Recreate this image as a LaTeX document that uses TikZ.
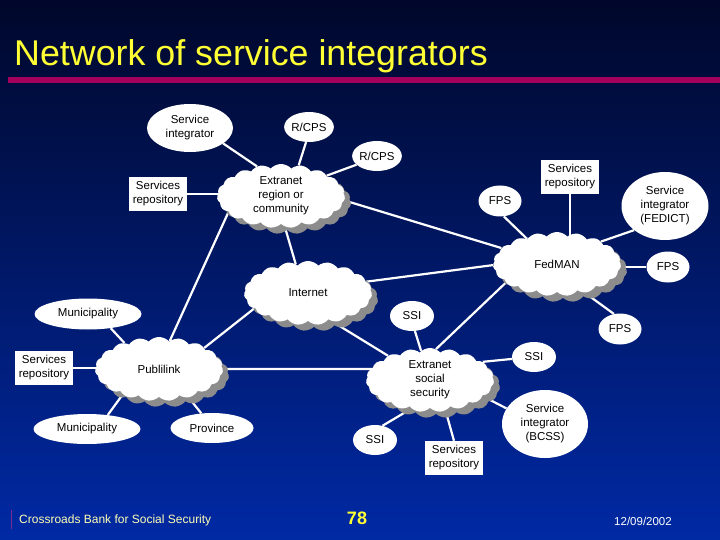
\documentclass[tikz,border=0pt]{standalone}
\usepackage{fontspec}
\setmainfont{Liberation Sans}
\usetikzlibrary{shapes.symbols,shapes.geometric,shadows,backgrounds}
\definecolor{slidetop}{HTML}{00072A}
\definecolor{slidebot}{HTML}{0029A4}
\definecolor{titleyel}{HTML}{FFFF33}
\definecolor{rulemag}{HTML}{A3005C}
\definecolor{footyel}{HTML}{FFFFB4}
\definecolor{barpurple}{HTML}{7A2C8F}
\definecolor{puffgrey}{HTML}{8C8C8C}
\pgfdeclarelayer{links}
\pgfsetlayers{background,links,main}

\begin{document}
\begin{tikzpicture}[x=1pt,y=-1pt,
  lbl/.style={font=\fontsize{11.5}{14}\selectfont,align=center,inner sep=0pt,fill=white},
  ell/.style={lbl,ellipse},
  repo/.style={lbl,rectangle,minimum width=58pt,minimum height=34pt},
  cld/.style={lbl,cloud,cloud puffs=19,cloud puff arc=95,cloud ignores aspect,
              minimum width=128pt,minimum height=64pt,
              drop shadow={shadow xshift=6pt,shadow yshift=-6pt,fill=puffgrey,opacity=1}},
  link/.style={draw=white,line width=2.2pt}]

\useasboundingbox (0,0) rectangle (720,540);
\begin{pgfonlayer}{background}
\shade[top color=slidetop,bottom color=slidebot] (0,0) rectangle (720,540);
\end{pgfonlayer}

\node[anchor=base west,text=titleyel,font=\fontsize{35.8}{40}\selectfont,inner sep=0pt] (title) at (14,66)
  {Network of service integrators};
\fill[rulemag] (8,77.5) rectangle (720,83.5);

% upper region
\node[ell,minimum width=86pt,minimum height=48pt] (si) at (190,128) {Service\\integrator};
\node[ell,minimum width=43pt,minimum height=30pt] (rc1) at (309,127) {R/CPS};
\node[ell,minimum width=43pt,minimum height=30pt] (rc2) at (377,156) {R/CPS};
\node[repo] (srA) at (158,194) {Services\\repository};
\node[cld] (ext) at (281,196) {Extranet\\region or\\community};

% FedMAN
\node[repo] (srB) at (570,177) {Services\\repository};
\node[ell,minimum width=43pt,minimum height=31pt] (fpsA) at (500,201) {FPS};
\node[ell,minimum width=87pt,minimum height=68pt] (fedict) at (665,206) {Service\\integrator\\(FEDICT)};
\node[cld] (fed) at (557,264) {FedMAN};
\node[ell,minimum width=43pt,minimum height=31pt] (fpsB) at (668,267) {FPS};
\node[ell,minimum width=43pt,minimum height=31pt] (fpsC) at (620,329) {FPS};

\node[cld] (int) at (308,293) {Internet};

% Publilink
\node[ell,minimum width=107pt,minimum height=31pt] (muniA) at (88,314) {Municipality};
\node[repo] (srC) at (44,368) {Services\\repository};
\node[cld] (pub) at (159,369) {Publilink};
\node[ell,minimum width=107pt,minimum height=30pt] (muniB) at (87,429) {Municipality};
\node[ell,minimum width=83pt,minimum height=30pt] (prov) at (212,428) {Province};

% social security
\node[ell,minimum width=44pt,minimum height=30pt] (ssiA) at (412,316) {SSI};
\node[cld] (ess) at (430,380) {Extranet\\social\\security};
\node[ell,minimum width=44pt,minimum height=30pt] (ssiB) at (534,357) {SSI};
\node[ell,minimum width=44pt,minimum height=30pt] (ssiC) at (375,440) {SSI};
\node[repo] (srD) at (454,458) {Services\\repository};
\node[ell,minimum width=86pt,minimum height=68pt] (bcss) at (545,424) {Service\\integrator\\(BCSS)};

\begin{pgfonlayer}{links}
\draw[link] (si.335) -- (ext.129);
\draw[link] (rc1.259) -- (ext.60);
\draw[link] (rc2.203) -- (ext.24);
\draw[link] (srA) -- (srA -| ext);
\draw[link] (ext.356) -- (fed.164);
\draw[link] (ext.277) -- (int.113);
\draw[link] (ext.197) -- (pub.69);
\draw[link] (fpsA.284) -- (fed.140);
\draw[link] (srB) -- (srB |- fed);
\draw[link] (fedict.218) -- (fed.27);
\draw[link] (fpsB) -- (fpsB -| fed);
\draw[link] (fpsC.112) -- (fed.314);
\draw[link] (int.11) -- (fed.181);
\draw[link] (fed.200) -- (ess.79);
\draw[link] (int.196) -- (pub.25);
\draw[link] (int.310) -- (ess.150);
\draw[link] (muniA.328) -- (pub.143);
\draw[link] (srC) -- (srC -| pub);
\draw[link] (muniB.34) -- (pub.215);
\draw[link] (prov.126) -- (pub.316);
\draw[link] (pub) -- (pub -| ess);
\draw[link] (ssiA.281) -- (ess.107);
\draw[link] (ssiB.185) -- (ess.19);
\draw[link] (ssiC.62) -- (ess.237);
\draw[link] (srD.north) -- (ess.297);
\draw[link] (bcss.158) -- (ess.343);
\end{pgfonlayer}

% footer
\draw[barpurple,line width=1.5pt] (11.5,510) -- (11.5,529);
\node[anchor=west,text=footyel,font=\fontsize{12}{14}\selectfont,inner sep=0pt] (bank) at (19,520)
  {Crossroads Bank for Social Security};
\node[text=titleyel,font=\bfseries\fontsize{18}{20}\selectfont,inner sep=0pt] (page) at (357,518) {78};
\node[text=white,font=\fontsize{11.5}{13}\selectfont,inner sep=0pt] (date) at (643,521) {12/09/2002};
\end{tikzpicture}
\end{document}
